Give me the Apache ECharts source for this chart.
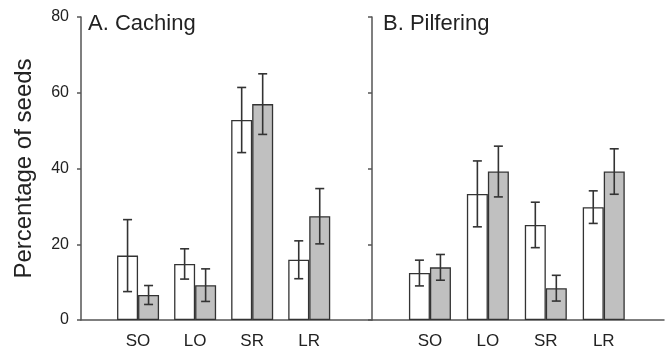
<!DOCTYPE html>
<html>
<head>
<meta charset="utf-8">
<script src="https://cdn.jsdelivr.net/npm/echarts@6/dist/echarts.min.js"></script>
<style>
    html, body { margin: 0; padding: 0; background: #fff; }
    #seedChart { width: 667px; height: 350px; }
</style>
</head>
<body>
<div id="seedChart"></div>
<script>
// categories (treatments) and their x positions on the panel axis
var cats = ['SO', 'LO', 'SR', 'LR'];
var catPos = [1, 2, 3, 4];
var yTicks = [0, 20, 40, 60, 80];

// A. Caching
var cachingOpen = [17.0, 14.8, 52.8, 15.9];
var cachingOpenErr = [9.5, 4.0, 8.6, 5.0];
var cachingGray = [6.6, 9.2, 57.0, 27.4];
var cachingGrayErr = [2.5, 4.3, 8.0, 7.3];

// B. Pilfering
var pilferOpen = [12.4, 33.3, 25.1, 29.8];
var pilferOpenErr = [3.4, 8.7, 6.0, 4.3];
var pilferGray = [13.9, 39.2, 8.4, 39.2];
var pilferGrayErr = [3.4, 6.7, 3.4, 6.0];

var seedChart = function () {
    var chart = echarts.init(document.getElementById('seedChart'));
    var barW = 21;
    var ink = '#333';
    var axisCol = '#555';
    var font = 'Liberation Sans, Arial, sans-serif';

    var pairs = function (vals) {
        return catPos.map(function (p, i) { return [p, vals[i]]; });
    };
    var errPairs = function (vals, errs) {
        return catPos.map(function (p, i) { return [p, vals[i] - errs[i], vals[i] + errs[i]]; });
    };

    // error bar with caps, shifted half a bar to the left / right
    var errSeries = function (idx, vals, errs, side) {
        return {
            type: 'custom',
            xAxisIndex: idx,
            yAxisIndex: idx,
            silent: true,
            z: 5,
            data: errPairs(vals, errs),
            renderItem: function (params, api) {
                var lo = api.coord([api.value(0), api.value(1)]);
                var hi = api.coord([api.value(0), api.value(2)]);
                var x = lo[0] + side * barW / 2;
                var cap = 4.5;
                var st = { stroke: ink, lineWidth: 1.6 };
                return {
                    type: 'group',
                    children: [
                        { type: 'line', shape: { x1: x, y1: lo[1], x2: x, y2: hi[1] }, style: st },
                        { type: 'line', shape: { x1: x - cap, y1: hi[1], x2: x + cap, y2: hi[1] }, style: st },
                        { type: 'line', shape: { x1: x - cap, y1: lo[1], x2: x + cap, y2: lo[1] }, style: st }
                    ]
                };
            }
        };
    };

    var barSeries = function (idx, vals, fill) {
        return {
            type: 'bar',
            xAxisIndex: idx,
            yAxisIndex: idx,
            barWidth: barW,
            barGap: '0%',
            silent: true,
            data: pairs(vals),
            itemStyle: {
                color: fill,
                borderColor: ink,
                borderWidth: 1.3
            }
        };
    };

    var xAxisOf = function (idx, max) {
        return {
            type: 'value',
            gridIndex: idx,
            min: 0,
            max: max,
            interval: 1,
            axisLine: { show: true, onZero: false, lineStyle: { color: axisCol, width: 1.5 } },
            axisTick: { show: false },
            splitLine: { show: false },
            axisLabel: {
                show: true,
                margin: 13,
                color: '#222',
                fontFamily: font,
                fontSize: 17,
                formatter: function (v) {
                    var i = catPos.indexOf(v);
                    return i >= 0 ? cats[i] : '';
                }
            }
        };
    };

    var yAxisOf = function (idx, showLabel) {
        return {
            type: 'value',
            gridIndex: idx,
            min: yTicks[0],
            max: yTicks[yTicks.length - 1],
            interval: 20,
            name: showLabel ? 'Percentage of seeds' : '',
            nameLocation: 'middle',
            nameGap: 45,
            nameTextStyle: { color: '#222', fontFamily: font, fontSize: 24 },
            axisLine: { show: true, onZero: false, lineStyle: { color: axisCol, width: 1.5 } },
            axisTick: { show: true, length: 4, lineStyle: { color: axisCol, width: 1.5 } },
            splitLine: { show: false },
            axisLabel: {
                show: showLabel,
                margin: 12,
                color: '#222',
                fontFamily: font,
                fontSize: 16
            }
        };
    };

    var option = {
        animation: false,
        title: [
            {
                text: 'A. Caching',
                left: 88,
                top: 13,
                padding: 0,
                textStyle: { color: '#222', fontFamily: font, fontSize: 22, fontWeight: 'normal' }
            },
            {
                text: 'B. Pilfering',
                left: 383,
                top: 13,
                padding: 0,
                textStyle: { color: '#222', fontFamily: font, fontSize: 22, fontWeight: 'normal' }
            }
        ],
        grid: [
            { left: 81, width: 291, top: 17, bottom: 30 },
            { left: 372, right: 0, top: 17, bottom: 30 }
        ],
        xAxis: [xAxisOf(0, 5.1), xAxisOf(1, 5.04)],
        yAxis: [yAxisOf(0, true), yAxisOf(1, false)],
        series: [
            barSeries(0, cachingOpen, '#fff'),
            barSeries(0, cachingGray, '#c0c0c0'),
            errSeries(0, cachingOpen, cachingOpenErr, -1),
            errSeries(0, cachingGray, cachingGrayErr, 1),
            barSeries(1, pilferOpen, '#fff'),
            barSeries(1, pilferGray, '#c0c0c0'),
            errSeries(1, pilferOpen, pilferOpenErr, -1),
            errSeries(1, pilferGray, pilferGrayErr, 1)
        ]
    };
    chart.setOption(option);
};

seedChart();
</script>
</body>
</html>
